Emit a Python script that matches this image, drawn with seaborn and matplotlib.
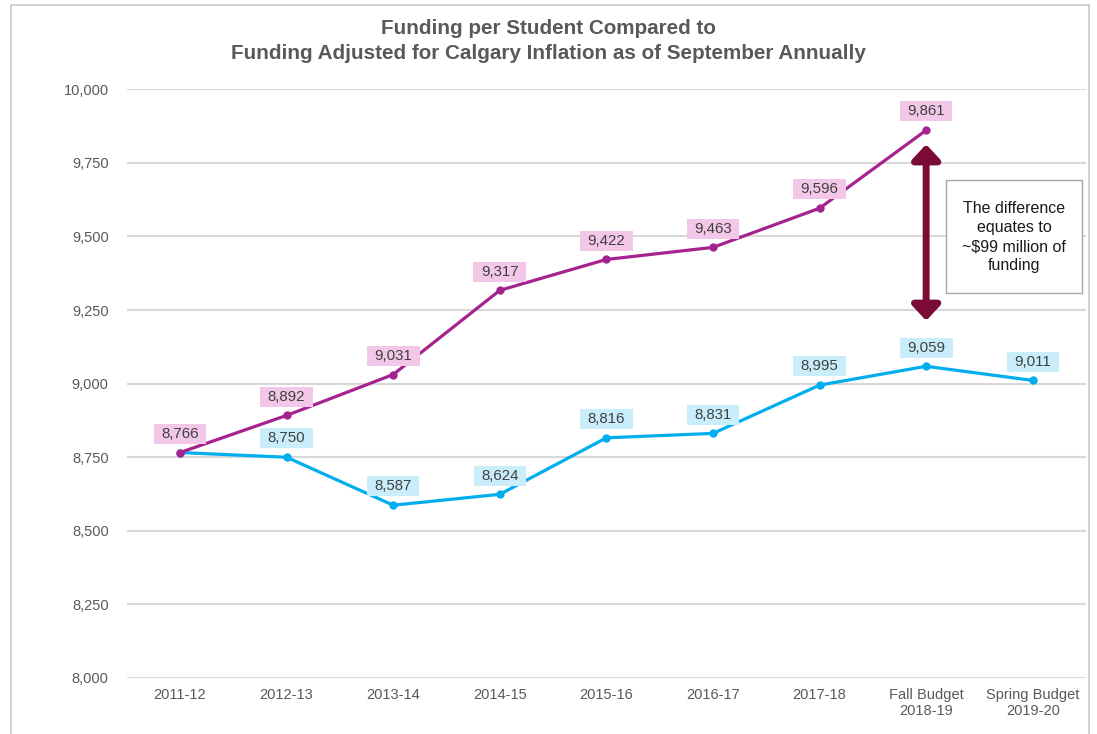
import matplotlib
matplotlib.use("Agg")
import matplotlib.pyplot as plt
import matplotlib.patches as mpatches
import numpy as np
import pandas as pd
import seaborn as sns

categories = ["2011-12", "2012-13", "2013-14", "2014-15", "2015-16", "2016-17",
              "2017-18", "Fall Budget\n2018-19", "Spring Budget\n2019-20"]
inflation_adjusted = [8766, 8892, 9031, 9317, 9422, 9463, 9596, 9861, np.nan]
funding_per_student = [8766, 8750, 8587, 8624, 8816, 8831, 8995, 9059, 9011]
yticks = [8000, 8250, 8500, 8750, 9000, 9250, 9500, 9750, 10000]
title = "Funding per Student Compared to\nFunding Adjusted for Calgary Inflation as of September Annually"
note = "The difference\nequates to\n~$99 million of\nfunding"

MAGENTA = "#A5238E"
BLUE = "#00AEEF"
PINK_BOX = "#F2C7E7"
BLUE_BOX = "#C9EDFB"
MAROON = "#7A0B37"
GRAY_TXT = "#595959"

sns.set_theme(style="white")
plt.rcParams["font.family"] = ["Liberation Sans", "DejaVu Sans"]

df = pd.DataFrame({"cat": categories, "infl": inflation_adjusted, "fund": funding_per_student})

fig = plt.figure(figsize=(10.97, 7.34), dpi=100)
ax = fig.add_axes([0.1155, 0.0763, 0.8745, 0.802])

sns.lineplot(data=df, x="cat", y="fund", ax=ax, color=BLUE, linewidth=2.3,
             marker="o", markersize=6, markeredgewidth=0, sort=False, zorder=3)
sns.lineplot(data=df.dropna(), x="cat", y="infl", ax=ax, color=MAGENTA, linewidth=2.3,
             marker="o", markersize=6, markeredgewidth=0, sort=False, zorder=4)

ax.set_xlim(-0.5, len(categories) - 0.5)
ax.set_ylim(8000, 10000)
ax.set_yticks(yticks)
ax.set_yticklabels([f"{v:,}" for v in yticks])
ax.set_xticks(range(len(categories)))
ax.set_xticklabels(categories)
ax.set_xlabel("")
ax.set_ylabel("")
ax.tick_params(axis="y", length=0, pad=13, labelsize=10.5, labelcolor=GRAY_TXT)
ax.tick_params(axis="x", length=0, pad=7, labelsize=10.5, labelcolor=GRAY_TXT)
ax.yaxis.grid(True, color="#D9D9D9", linewidth=1.5)
ax.xaxis.grid(False)
for s in ax.spines.values():
    s.set_visible(False)

box_kw = dict(boxstyle="square,pad=0.5", ec="none", mutation_aspect=0.4)
for i, v in enumerate(inflation_adjusted):
    if not np.isnan(v):
        ax.annotate(f"{int(v):,}", (i, v), xytext=(0, 13.5), textcoords="offset points",
                    ha="center", va="center", fontsize=10.8, color="#404040", zorder=6,
                    bbox=dict(fc=PINK_BOX, **box_kw))
for i, v in enumerate(funding_per_student):
    if i == 0:
        continue
    ax.annotate(f"{int(v):,}", (i, v), xytext=(0, 13.5), textcoords="offset points",
                ha="center", va="center", fontsize=10.8, color="#404040", zorder=6,
                bbox=dict(fc=BLUE_BOX, **box_kw))

# double-headed arrow showing the difference
ax.annotate("", xy=(7, 9813), xytext=(7, 9214),
            arrowprops=dict(arrowstyle="<|-|>,head_length=0.75,head_width=0.7",
                            color=MAROON, lw=5, shrinkA=0, shrinkB=0), zorder=5)

# note box
fig.patches.append(mpatches.Rectangle((946 / 1097, 1 - 293 / 734), 136 / 1097, 113 / 734,
                                      transform=fig.transFigure, fc="white", ec="#A6A6A6",
                                      lw=1.0, zorder=10))
fig.text(1014 / 1097, 1 - 237 / 734, note, ha="center", va="center", fontsize=11.5,
         color="#1a1a1a", linespacing=1.35, zorder=11)

# outer frame
fig.patches.append(mpatches.Rectangle((11 / 1097, -0.05), 1078 / 1097, 1.05 - 5 / 734,
                                      transform=fig.transFigure, fc="none", ec="#C8C8C8",
                                      lw=1.2, zorder=0))

fig.text(0.5, 1 - 41 / 734, title, ha="center", va="center", fontsize=14.9,
         fontweight="bold", color=GRAY_TXT, linespacing=1.38)

fig.savefig("out.png", dpi=100, facecolor="white")
